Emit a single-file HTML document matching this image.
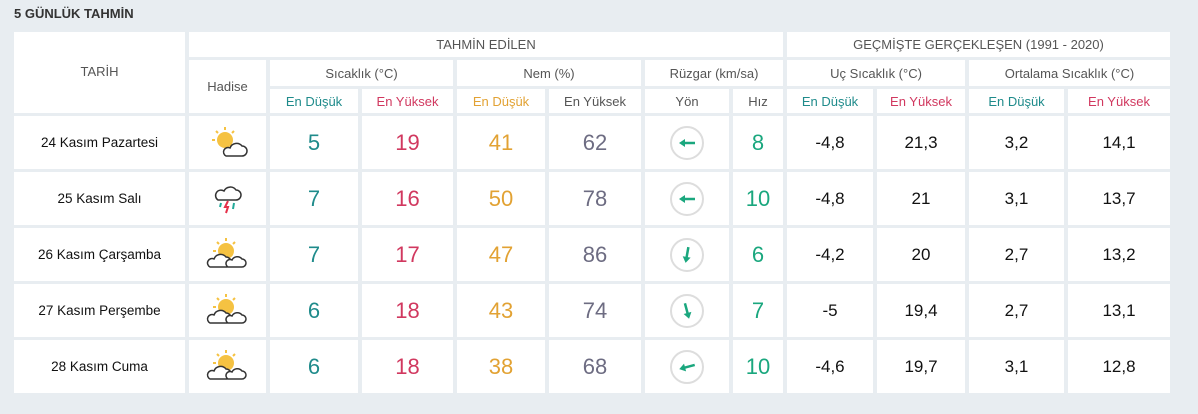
<!DOCTYPE html>
<html><head><meta charset="utf-8"><style>
body{margin:0;width:1198px;height:414px;background:#e8edf1;font-family:"Liberation Sans",sans-serif;overflow:hidden;position:relative}
.t{position:absolute;left:14px;top:6px;font-weight:bold;font-size:13px;color:#333}
.g{position:absolute;left:14px;top:32px;display:grid;grid-template-columns:171px 77px 88px 91px 88px 92px 84px 50px 86px 88px 95px 102px;grid-template-rows:25px 26px 24px 53px 53px 53px 53px 53px;column-gap:4px;row-gap:3px}
.g>div{background:#fff;display:flex;align-items:center;justify-content:center;font-size:13px;color:#555}
.n{font-size:22px!important;font-weight:500}
.b{font-size:17px!important;color:#111!important}
.d{font-size:13.5px!important;color:#111!important}
.c1{color:#1f8b8b!important}.c2{color:#d1385f!important}.c3{color:#e2a233!important}.c4{color:#6d6c82!important}.c5{color:#1aa77e!important}
.arr{width:34px;height:34px;border:2px solid #ddd;border-radius:50%;box-sizing:border-box;display:flex;align-items:center;justify-content:center}
</style></head><body>
<div class="t">5 GÜNLÜK TAHMİN</div>
<div class="g">
<div style="grid-column:1;grid-row:1/4;align-items:flex-start;padding-top:32px">TARİH</div>
<div style="grid-column:2/9;grid-row:1">TAHMİN EDİLEN</div>
<div style="grid-column:9/13;grid-row:1">GEÇMİŞTE GERÇEKLEŞEN (1991 - 2020)</div>
<div style="grid-column:2;grid-row:2/4">Hadise</div>
<div style="grid-column:3/5">Sıcaklık (°C)</div>
<div style="grid-column:5/7">Nem (%)</div>
<div style="grid-column:7/9">Rüzgar (km/sa)</div>
<div style="grid-column:9/11">Uç Sıcaklık (°C)</div>
<div style="grid-column:11/13">Ortalama Sıcaklık (°C)</div>
<div class="c1" style="grid-column:3">En Düşük</div><div class="c2">En Yüksek</div>
<div class="c3">En Düşük</div><div>En Yüksek</div>
<div>Yön</div><div>Hız</div>
<div class="c1">En Düşük</div><div class="c2">En Yüksek</div>
<div class="c1">En Düşük</div><div class="c2">En Yüksek</div>

<div class="d">24 Kasım Pazartesi</div>
<div><svg width="40" height="34"><circle cx="17" cy="14" r="8" fill="#f5c242"/><g stroke="#f5c242" stroke-width="2"><line x1="17" y1="1" x2="17" y2="4"/><line x1="4" y1="14" x2="7" y2="14"/><line x1="8" y1="5" x2="10" y2="7"/><line x1="26" y1="5" x2="24" y2="7"/></g><path d="M18 30h16a5 5 0 0 0 0-10a7 7 0 0 0-12 2a4 4 0 0 0-4 8z" fill="#fff" stroke="#333" stroke-width="1.5"/></svg></div>
<div class="n c1">5</div><div class="n c2">19</div><div class="n c3">41</div><div class="n c4">62</div>
<div><div class="arr"><svg width="22" height="22"><g transform="rotate(0 11 11)"><line x1="5" y1="11" x2="19" y2="11" stroke="#1aa77e" stroke-width="2.5"/><path d="M3 11l6-4v8z" fill="#1aa77e"/></g></svg></div></div>
<div class="n c5">8</div><div class="b">-4,8</div><div class="b">21,3</div><div class="b">3,2</div><div class="b">14,1</div>

<div class="d">25 Kasım Salı</div>
<div><svg width="40" height="34"><path d="M10 18h18a5 5 0 0 0 0-10a7 7 0 0 0-12 1a4 4 0 0 0-6 9z" fill="#fff" stroke="#333" stroke-width="1.5"/><path d="M20 19l-3 6h3l-2 6" stroke="#e6304a" stroke-width="2" fill="none"/><g stroke="#2a9" stroke-width="2"><line x1="13" y1="21" x2="12" y2="25"/><line x1="26" y1="21" x2="25" y2="27"/></g></svg></div>
<div class="n c1">7</div><div class="n c2">16</div><div class="n c3">50</div><div class="n c4">78</div>
<div><div class="arr"><svg width="22" height="22"><g transform="rotate(0 11 11)"><line x1="5" y1="11" x2="19" y2="11" stroke="#1aa77e" stroke-width="2.5"/><path d="M3 11l6-4v8z" fill="#1aa77e"/></g></svg></div></div>
<div class="n c5">10</div><div class="b">-4,8</div><div class="b">21</div><div class="b">3,1</div><div class="b">13,7</div>

<div class="d">26 Kasım Çarşamba</div>
<div><svg width="44" height="34"><circle cx="20" cy="13" r="8" fill="#f5c242"/><g stroke="#f5c242" stroke-width="2"><line x1="20" y1="0" x2="20" y2="3"/><line x1="7" y1="13" x2="10" y2="13"/><line x1="11" y1="4" x2="13" y2="6"/><line x1="29" y1="4" x2="27" y2="6"/></g><path d="M4 29h16a5 5 0 0 0 0-10a7 7 0 0 0-12 2a4 4 0 0 0-4 8z" fill="#fff" stroke="#333" stroke-width="1.5"/><path d="M22 29h14a4 4 0 0 0 0-8a6 6 0 0 0-10 1a4 4 0 0 0-4 7z" fill="#fff" stroke="#333" stroke-width="1.5"/></svg></div>
<div class="n c1">7</div><div class="n c2">17</div><div class="n c3">47</div><div class="n c4">86</div>
<div><div class="arr"><svg width="22" height="22"><g transform="rotate(-80 11 11)"><line x1="5" y1="11" x2="19" y2="11" stroke="#1aa77e" stroke-width="2.5"/><path d="M3 11l6-4v8z" fill="#1aa77e"/></g></svg></div></div>
<div class="n c5">6</div><div class="b">-4,2</div><div class="b">20</div><div class="b">2,7</div><div class="b">13,2</div>

<div class="d">27 Kasım Perşembe</div>
<div><svg width="44" height="34"><circle cx="20" cy="13" r="8" fill="#f5c242"/><g stroke="#f5c242" stroke-width="2"><line x1="20" y1="0" x2="20" y2="3"/><line x1="7" y1="13" x2="10" y2="13"/><line x1="11" y1="4" x2="13" y2="6"/><line x1="29" y1="4" x2="27" y2="6"/></g><path d="M4 29h16a5 5 0 0 0 0-10a7 7 0 0 0-12 2a4 4 0 0 0-4 8z" fill="#fff" stroke="#333" stroke-width="1.5"/><path d="M22 29h14a4 4 0 0 0 0-8a6 6 0 0 0-10 1a4 4 0 0 0-4 7z" fill="#fff" stroke="#333" stroke-width="1.5"/></svg></div>
<div class="n c1">6</div><div class="n c2">18</div><div class="n c3">43</div><div class="n c4">74</div>
<div><div class="arr"><svg width="22" height="22"><g transform="rotate(-105 11 11)"><line x1="5" y1="11" x2="19" y2="11" stroke="#1aa77e" stroke-width="2.5"/><path d="M3 11l6-4v8z" fill="#1aa77e"/></g></svg></div></div>
<div class="n c5">7</div><div class="b">-5</div><div class="b">19,4</div><div class="b">2,7</div><div class="b">13,1</div>

<div class="d">28 Kasım Cuma</div>
<div><svg width="44" height="34"><circle cx="20" cy="13" r="8" fill="#f5c242"/><g stroke="#f5c242" stroke-width="2"><line x1="20" y1="0" x2="20" y2="3"/><line x1="7" y1="13" x2="10" y2="13"/><line x1="11" y1="4" x2="13" y2="6"/><line x1="29" y1="4" x2="27" y2="6"/></g><path d="M4 29h16a5 5 0 0 0 0-10a7 7 0 0 0-12 2a4 4 0 0 0-4 8z" fill="#fff" stroke="#333" stroke-width="1.5"/><path d="M22 29h14a4 4 0 0 0 0-8a6 6 0 0 0-10 1a4 4 0 0 0-4 7z" fill="#fff" stroke="#333" stroke-width="1.5"/></svg></div>
<div class="n c1">6</div><div class="n c2">18</div><div class="n c3">38</div><div class="n c4">68</div>
<div><div class="arr"><svg width="22" height="22"><g transform="rotate(-15 11 11)"><line x1="5" y1="11" x2="19" y2="11" stroke="#1aa77e" stroke-width="2.5"/><path d="M3 11l6-4v8z" fill="#1aa77e"/></g></svg></div></div>
<div class="n c5">10</div><div class="b">-4,6</div><div class="b">19,7</div><div class="b">3,1</div><div class="b">12,8</div>
</div>
</body></html>
